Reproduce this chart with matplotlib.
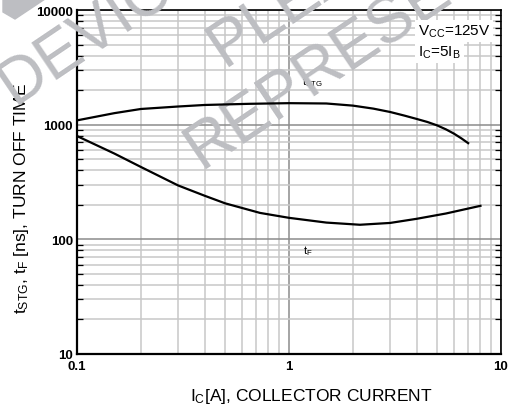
import matplotlib
matplotlib.use("Agg")
import matplotlib.pyplot as plt
from matplotlib.ticker import LogLocator, NullFormatter
from matplotlib.patches import Polygon

plt.rcParams["font.family"] = ["Liberation Sans", "DejaVu Sans"]
plt.rcParams["mathtext.default"] = "regular"

# storage time t_STG vs collector current
ic_stg = [0.1, 0.15, 0.2, 0.3, 0.4, 0.65, 1.0, 1.5, 2.0, 2.5, 3.0, 3.5, 4.0, 4.5, 5.0, 5.5, 6.0, 6.5, 7.0]
t_stg = [1090, 1260, 1370, 1440, 1485, 1520, 1540, 1530, 1466, 1380, 1290, 1200, 1122, 1055, 985, 910, 835, 760, 690]

# fall time t_F vs collector current
ic_f = [0.1, 0.15, 0.2, 0.3, 0.4, 0.5, 0.73, 1.0, 1.5, 2.16, 3.0, 4.0, 5.5, 8.0]
t_f = [796, 560, 428, 295, 240, 206, 170, 154, 140, 134, 139, 151, 168, 196]

x_ticks = [0.1, 1, 10]
x_labels = ["0.1", "1", "10"]
y_ticks = [10, 100, 1000, 10000]
y_labels = ["10", "100", "1000", "10000"]

fig = plt.figure(figsize=(5.09, 4.14), dpi=100)
ax = fig.add_axes([77/509, 59/414, 424/509, 344/414])
ax.set_xscale("log")
ax.set_yscale("log")
ax.set_xlim(0.1, 10)
ax.set_ylim(10, 10000)

# grid
ax.xaxis.set_minor_locator(LogLocator(base=10, subs=range(2, 10)))
ax.yaxis.set_minor_locator(LogLocator(base=10, subs=range(2, 10)))
ax.xaxis.set_minor_formatter(NullFormatter())
ax.yaxis.set_minor_formatter(NullFormatter())
ax.grid(which="minor", color="#c8c8c8", lw=1.1, zorder=0)
ax.grid(which="major", color="#8c8c8c", lw=1.1, zorder=0)

ax.set_xticks(x_ticks)
ax.set_xticklabels(x_labels, fontweight="bold", fontsize=9.5)
ax.set_yticks(y_ticks)
ax.set_yticklabels(y_labels, fontweight="bold", fontsize=9.5)
ax.tick_params(axis="x", which="both", length=0, pad=4)
ax.tick_params(axis="y", which="both", direction="in", left=True, right=True,
               length=4, width=0.9, pad=3)
ax.tick_params(axis="y", which="major", length=0)

for s in ax.spines.values():
    s.set_linewidth(1.2)
ax.spines["left"].set_linewidth(1.6)
ax.spines["bottom"].set_linewidth(1.6)

ft = fig.transFigure

# labels drawn under the watermark
ax.text(1.15, 2250, "t$_{STG}$", fontsize=8, zorder=3)
ax.text(1.16, 75, "t$_F$", fontsize=8, zorder=3)
ax.text(22/509, 1-199/414, "t$_{STG}$, t$_F$ [ns], TURN OFF TIME", rotation=90,
        ha="center", va="center", fontsize=12.5, zorder=3, transform=ft, clip_on=False)

# watermark
wm_color = "#bdbec2"
for (px, py), word in [((14, 106), "DEVICE"), ((224, 68), "PLEASE"),
                       ((201, 170), "REPRESENTATIVE")]:
    ax.text(px/509, 1-py/414, word, color=wm_color, fontsize=46, rotation=34,
            rotation_mode="anchor", ha="left", va="baseline", zorder=5,
            transform=ft, clip_on=False)
ax.add_patch(Polygon([(3/509, 1), (45/509, 1), (15/509, 1-20/414), (3/509, 1-13/414)],
                     closed=True, transform=ft, color=wm_color, zorder=5, clip_on=False))

ax.plot(ic_stg, t_stg, color="black", lw=1.6, zorder=10)
ax.plot(ic_f, t_f, color="black", lw=1.6, zorder=10)

ax.text(418/509, 1-36/414, "V$_{CC}$=125V", fontsize=11, zorder=12, transform=ft,
        bbox=dict(facecolor="white", edgecolor="none", pad=2))
ax.text(418/509, 1-57/414, "I$_C$=5I$_B$", fontsize=11, zorder=12, transform=ft,
        bbox=dict(facecolor="white", edgecolor="none", pad=2))

fig.text(311/509, 1-397/414, "I$_C$[A], COLLECTOR CURRENT", ha="center", va="center",
         fontsize=12.5)

fig.savefig("out.png", dpi=100)
